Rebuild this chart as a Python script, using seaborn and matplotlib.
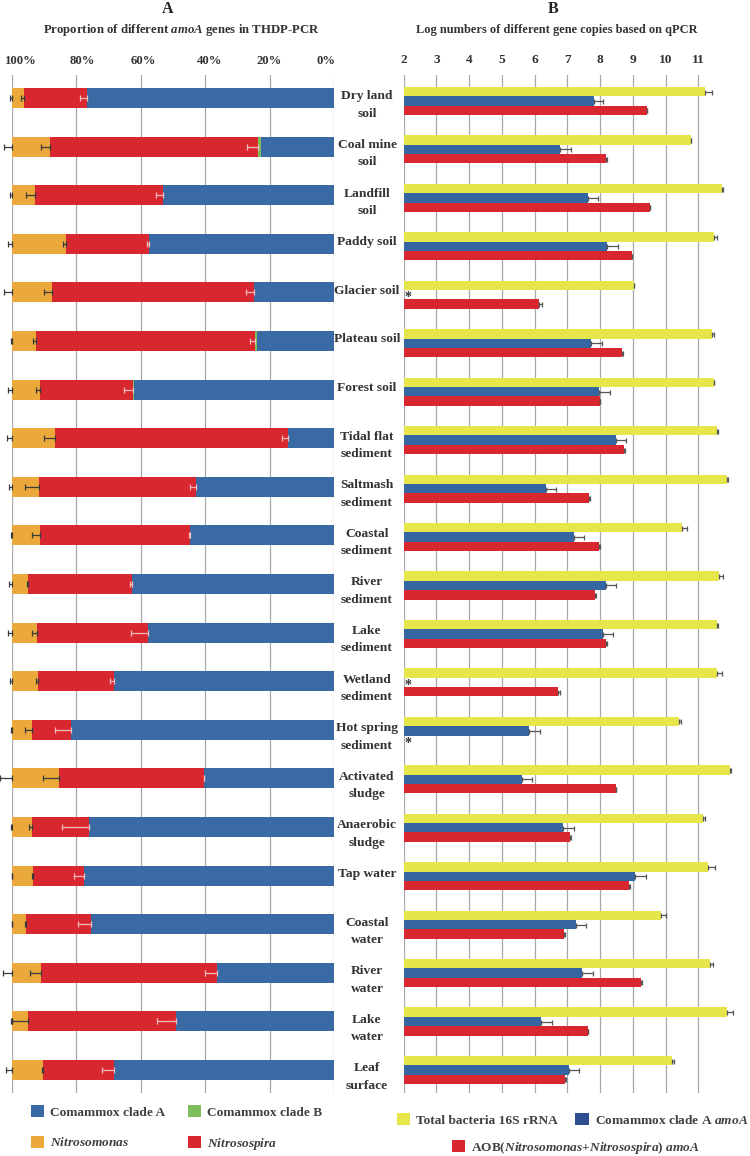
import numpy as np
import pandas as pd
import matplotlib
matplotlib.use("Agg")
import matplotlib.pyplot as plt
import matplotlib.colors as mcolors
import seaborn as sns
from matplotlib.patches import Patch
from matplotlib.transforms import blended_transform_factory, ScaledTranslation

# ---------------- data ----------------
categories = ["Dry land soil", "Coal mine soil", "Landfill soil", "Paddy soil", "Glacier soil",
              "Plateau soil", "Forest soil", "Tidal flat sediment", "Saltmash sediment",
              "Coastal sediment", "River sediment", "Lake sediment", "Wetland sediment",
              "Hot spring sediment", "Activated sludge", "Anaerobic sludge", "Tap water",
              "Coastal water", "River water", "Lake water", "Leaf surface"]
labels = ["Dry land\nsoil", "Coal mine\nsoil", "Landfill\nsoil", "Paddy soil", "Glacier soil",
          "Plateau soil", "Forest soil", "Tidal flat\nsediment", "Saltmash\nsediment",
          "Coastal\nsediment", "River\nsediment", "Lake\nsediment", "Wetland\nsediment",
          "Hot spring\nsediment", "Activated\nsludge", "Anaerobic\nsludge", "Tap water",
          "Coastal\nwater", "River\nwater", "Lake\nwater", "Leaf\nsurface"]

# Panel A: proportions (%)
nitrosomonas = [3.6, 11.9, 7.0, 16.9, 12.4, 7.6, 8.6, 13.3, 8.3, 8.6, 4.9, 7.9, 8.2, 6.1, 14.6, 6.1, 6.5, 4.2, 9.0, 5.0, 9.7]
nitrosospira = [19.8, 64.6, 39.9, 25.7, 62.8, 67.9, 29.0, 72.3, 48.7, 46.8, 32.3, 34.2, 23.4, 12.3, 45.1, 17.8, 15.8, 20.4, 54.7, 45.9, 21.9]
clade_b = [0, 0.8, 0, 0, 0, 0.5, 0.4, 0, 0, 0, 0, 0, 0, 0, 0, 0, 0, 0, 0, 0, 0]
clade_a = [76.6, 22.7, 53.1, 57.4, 24.8, 24.0, 62.0, 14.4, 43.0, 44.6, 62.8, 57.9, 68.4, 81.6, 40.3, 76.1, 77.7, 75.4, 36.3, 49.1, 68.4]
err_nitrosomonas = [0.7, 2.6, 0.7, 1.2, 2.6, 0.2, 1.2, 1.6, 0.9, 0.2, 0.9, 1.2, 0.5, 0.2, 3.8, 0.4, 0.1, 0.1, 2.8, 0.2, 2.0]
err_nitrosospira = [0.7, 2.8, 2.6, 1.0, 2.5, 1.0, 1.0, 3.3, 4.4, 2.4, 0.3, 1.7, 0.8, 2.2, 5.0, 0.9, 0.2, 0.2, 3.5, 5.0, 0.4]
err_clade_a = [2.4, 3.6, 2.3, 0.8, 2.4, 1.6, 2.9, 1.6, 1.6, 0.3, 0.6, 5.2, 1.2, 5.2, 0.2, 8.4, 3.1, 4.1, 3.8, 5.8, 3.8]

# Panel B: log gene copies
nan = np.nan
total_16s = [11.21, 10.77, 11.71, 11.48, 9.03, 11.43, 11.48, 11.56, 11.87, 10.49, 11.63, 11.56, 11.56, 10.41, 11.97, 11.15, 11.31, 9.85, 11.36, 11.89, 10.19]
err_16s = [0.20, 0.02, 0.05, 0.08, 0.02, 0.05, 0.01, 0.04, 0.05, 0.17, 0.13, 0.04, 0.17, 0.06, 0.03, 0.05, 0.20, 0.15, 0.08, 0.16, 0.08]
comammox_a = [7.81, 6.79, 7.62, 8.21, nan, 7.72, 7.97, 8.48, 6.34, 7.19, 8.18, 8.08, nan, 5.83, 5.60, 6.87, 9.07, 7.25, 7.45, 6.20, 7.06]
err_comammox_a = [0.29, 0.32, 0.31, 0.33, nan, 0.33, 0.32, 0.32, 0.31, 0.31, 0.32, 0.33, nan, 0.32, 0.32, 0.32, 0.32, 0.32, 0.32, 0.33, 0.31]
aob = [9.42, 8.18, 9.51, 8.97, 6.12, 8.67, 8.00, 8.74, 7.67, 7.98, 7.86, 8.19, 6.71, nan, 8.49, 7.08, 8.88, 6.91, 9.24, 7.62, 6.93]
err_aob = [0.02, 0.02, 0.02, 0.01, 0.12, 0.02, 0.01, 0.01, 0.01, 0.01, 0.01, 0.02, 0.07, nan, 0.01, 0.03, 0.04, 0.02, 0.04, 0.02, 0.02]
genes = ["Total bacteria 16S rRNA", "Comammox clade A amoA", "AOB amoA"]

a_ticks = [100, 80, 60, 40, 20, 0]
a_ticklabels = ["100%", "80%", "60%", "40%", "20%", "0%"]
b_ticks = [2, 3, 4, 5, 6, 7, 8, 9, 10, 11]

# ---------------- style ----------------
sns.set_style("white")
plt.rcParams["font.family"] = ["Liberation Serif", "DejaVu Serif"]
plt.rcParams["font.weight"] = "bold"
plt.rcParams["mathtext.fontset"] = "custom"
plt.rcParams["mathtext.rm"] = "Liberation Serif:bold"
plt.rcParams["mathtext.bf"] = "Liberation Serif:bold"
plt.rcParams["mathtext.it"] = "Liberation Serif:italic:bold"

C_BLUE = "#3A6AA4"
C_GREEN = "#7DBE5A"
C_ORANGE = "#EBA93C"
C_RED = "#D9272F"
C_YELLOW = "#E6E64B"
C_BLUE_B = "#3566A1"
TXT = "#333333"
GRID = "#A8A8A8"

W, H = 750, 1156
fig = plt.figure(figsize=(7.5, 11.56), dpi=100)
TOP = 75
bottom = 1 - 1093 / H
height = (1093 - TOP) / H
axA = fig.add_axes([12 / W, bottom, 322 / W, height])
axB = fig.add_axes([403.7 / W, bottom, 10.2 * 32.73 / W, height])

# ---------------- panel A ----------------
c1 = np.array(clade_a)
c2 = c1 + np.array(clade_b)
c3 = c2 + np.array(nitrosospira)
c4 = c3 + np.array(nitrosomonas)
dfA = pd.DataFrame({"category": categories, "c1": c1, "c2": c2, "c3": c3, "c4": c4})
for col, colr in [("c4", C_ORANGE), ("c3", C_RED), ("c2", C_GREEN), ("c1", C_BLUE)]:
    sns.barplot(data=dfA, x=col, y="category", order=categories, color=colr, width=0.41,
                saturation=1, errorbar=None, linewidth=0, ax=axA, orient="h")
orange_rgba = mcolors.to_rgba(C_ORANGE)
orange_patches = [p for p in axA.patches if np.allclose(p.get_facecolor(), orange_rgba, atol=0.01)]
orange_patches.sort(key=lambda p: p.get_y())
yc = np.array([p.get_y() + p.get_height() / 2 for p in orange_patches])

z = np.zeros(len(categories))
ekw = dict(fmt="none", elinewidth=0.9, capsize=2.2, capthick=0.9, clip_on=False, zorder=5)
axA.errorbar(c4, yc, xerr=[z, err_nitrosomonas], ecolor="#3a3a3a", **ekw)
axA.errorbar(c3, yc, xerr=[z, err_nitrosospira], ecolor="#3a3a3a", **ekw)
axA.errorbar(c2, yc, xerr=[z, err_clade_a], ecolor="#F2BDBD", **ekw)

axA.set_xlim(100, 0)
axA.set_ylim(20.473, -(98 - TOP) / 48.6)
axA.set_xticks(a_ticks)
axA.set_xticklabels(a_ticklabels)
axA.xaxis.set_ticks_position("top")
axA.tick_params(axis="x", length=0, pad=5.5, labelsize=9.2, labelcolor=TXT)
axA.tick_params(axis="y", left=False, labelleft=False)
# label shifts as in the reference (px)
for lbl, dx in zip(axA.get_xticklabels(), [9, 6, 3, 4, 0, -8]):
    lbl.set_transform(lbl.get_transform() + ScaledTranslation(dx / 100, 0, fig.dpi_scale_trans))
axA.set_xlabel("")
axA.set_ylabel("")
axA.grid(axis="x", color=GRID, linewidth=0.9)
axA.grid(axis="y", visible=False)
axA.set_axisbelow(True)
for s in axA.spines.values():
    s.set_visible(False)

# ---------------- panel B ----------------
rows = []
vals = {genes[0]: (total_16s, err_16s), genes[1]: (comammox_a, err_comammox_a), genes[2]: (aob, err_aob)}
for i, c in enumerate(categories):
    for g in genes:
        v = vals[g][0][i]
        if not np.isnan(v):
            rows.append({"category": c, "gene": g, "value": v})
dfB = pd.DataFrame(rows)
paletteB = [C_YELLOW, C_BLUE_B, C_RED]
sns.barplot(data=dfB, x="value", y="category", hue="gene", order=categories, hue_order=genes,
            palette=paletteB, width=0.58, saturation=1, errorbar=None,
            linewidth=0, legend=False, ax=axB, orient="h")
for p in list(axB.patches):
    fc = p.get_facecolor()
    gi = None
    for k, colr in enumerate(paletteB):
        if np.allclose(fc, mcolors.to_rgba(colr), atol=0.01):
            gi = k
    if gi is None:
        continue
    yy = p.get_y() + p.get_height() / 2
    idx = int(round(yy))
    e = vals[genes[gi]][1][idx]
    if np.isnan(e):
        continue
    axB.errorbar(p.get_width(), yy, xerr=[[0], [e]], fmt="none", ecolor="#555555",
                 elinewidth=0.9, capsize=1.8, capthick=0.9, clip_on=False, zorder=5)

# asterisks for undetected genes
star_slots = [(categories.index("Glacier soil"), 0.0), (categories.index("Wetland sediment"), 0.0),
              (categories.index("Hot spring sediment"), 0.193)]
for idx, off in star_slots:
    axB.text(2.13, idx + off + 0.06, "*", ha="center", va="center", fontsize=10,
             color=TXT, fontweight="bold")

axB.set_xlim(2, 12.2)
axB.set_ylim(20.475, -(101 - TOP) / 48.45)
axB.set_xticks(b_ticks)
axB.set_xticklabels([str(t) for t in b_ticks])
axB.xaxis.set_ticks_position("top")
axB.tick_params(axis="x", length=0, pad=6.5, labelsize=9.6, labelcolor=TXT)
axB.tick_params(axis="y", left=False, labelleft=False)
axB.set_xlabel("")
axB.set_ylabel("")
axB.grid(axis="x", color=GRID, linewidth=0.9)
axB.grid(axis="y", visible=False)
axB.set_axisbelow(True)
for s in axB.spines.values():
    s.set_visible(False)

# ---------------- category labels ----------------
trans = blended_transform_factory(fig.transFigure, axA.transData)
for i, lab in enumerate(labels):
    for j, line in enumerate(lab.split("\n")):
        axA.text(367 / W, yc[i] + (1.3 + 17.5 * j) / 48.6, line, transform=trans,
                 ha="center", va="baseline", fontsize=9.7, fontweight="bold", color=TXT)

# ---------------- titles ----------------
fig.text(168 / W, 1 - 12.7 / H, "A", ha="center", va="baseline", fontsize=11.5,
         fontweight="bold", color="#222222")
fig.text(181.5 / W, 1 - 33.3 / H, r"Proportion of different $\mathit{amoA}$ genes in THDP-PCR",
         ha="center", va="baseline", fontsize=9.2, fontweight="bold", color=TXT)
fig.text(553 / W, 1 - 12.7 / H, "B", ha="center", va="baseline", fontsize=11.5,
         fontweight="bold", color="#222222")
fig.text(557 / W, 1 - 33.3 / H, "Log numbers of different gene copies based on qPCR",
         ha="center", va="baseline", fontsize=8.9, fontweight="bold", color=TXT)

# ---------------- legends ----------------
common = dict(frameon=False, handlelength=1.0, handleheight=1.0, handletextpad=0.45,
              borderpad=0, borderaxespad=0, labelcolor="#404040",
              prop={"family": "Liberation Serif", "weight": "bold", "size": 9.6})
hA = [Patch(facecolor=C_BLUE, edgecolor="none"), Patch(facecolor=C_ORANGE, edgecolor="none"),
      Patch(facecolor=C_GREEN, edgecolor="none"), Patch(facecolor=C_RED, edgecolor="none")]
lA = ["Comammox clade A", r"$\mathit{Nitrosomonas}$", "Comammox clade B", r"$\mathit{Nitrosospira}$"]
fig.legend(hA, lA, ncol=2, loc="upper left", bbox_to_anchor=(31 / W, 1 - 1105 / H),
           columnspacing=1.7, labelspacing=1.3, **common)

hB1 = [Patch(facecolor=C_YELLOW, edgecolor="none"), Patch(facecolor="#2F4E8F", edgecolor="none")]
lB1 = ["Total bacteria 16S rRNA", r"Comammox clade A $\mathit{amoA}$"]
fig.legend(hB1, lB1, ncol=2, loc="upper left", bbox_to_anchor=(397 / W, 1 - 1113 / H),
           columnspacing=1.3, **common)
hB2 = [Patch(facecolor=C_RED, edgecolor="none")]
lB2 = [r"AOB($\mathit{Nitrosomonas}$+$\mathit{Nitrosospira}$) $\mathit{amoA}$"]
fig.legend(hB2, lB2, ncol=1, loc="upper left", bbox_to_anchor=(452 / W, 1 - 1140 / H), **common)

fig.savefig("out.png", dpi=100)
